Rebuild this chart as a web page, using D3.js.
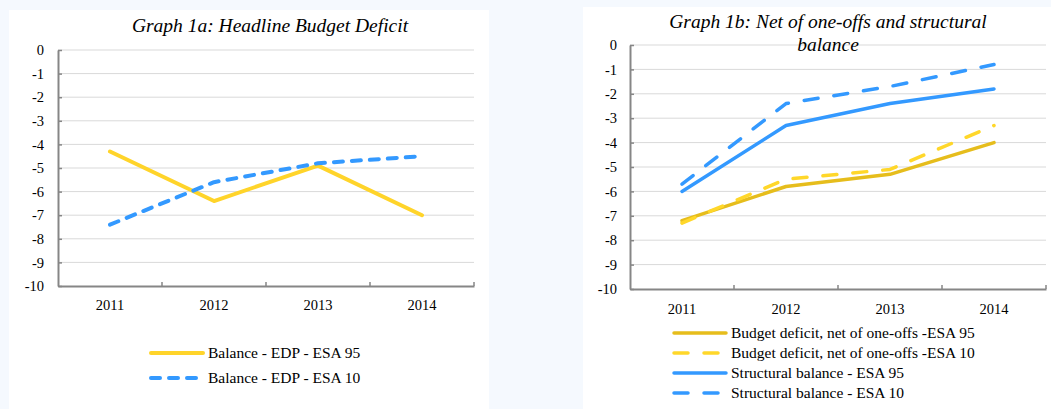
<!DOCTYPE html>
<html lang="en">
<head>
    <meta charset="UTF-8">
    <title>Graph 1a / 1b</title>
    <script src="https://d3js.org/d3.v7.min.js"></script>
    <style>
        body { margin: 0; background: #f5f9fe; }
        svg { display: block; }
        text { font-family: "Liberation Serif", "Times New Roman", serif; fill: #000; }
    </style>
</head>
<body>
    <script>
        // data
        var years = ["2011", "2012", "2013", "2014"];
        var yTicks = [0, -1, -2, -3, -4, -5, -6, -7, -8, -9, -10];

        var edpEsa95 = [-4.3, -6.4, -4.9, -7.0];
        var edpEsa10 = [-7.4, -5.6, -4.8, -4.5];

        var netEsa95 = [-7.2, -5.8, -5.3, -4.0];
        var netEsa10 = [-7.3, -5.5, -5.1, -3.3];
        var structEsa95 = [-6.0, -3.3, -2.4, -1.8];
        var structEsa10 = [-5.7, -2.4, -1.7, -0.8];

        var width = 1051, height = 409;
        var serif = "'Liberation Serif', 'Times New Roman', serif";

        var svg = d3.select("body").append("svg")
            .attr("width", width)
            .attr("height", height)
            .attr("font-family", serif);

        // white panels
        svg.append("rect").attr("x", 9).attr("y", 10).attr("width", 480).attr("height", 399).attr("fill", "#fff");
        svg.append("rect").attr("x", 583).attr("y", 7).attr("width", 468).attr("height", 402).attr("fill", "#fff");

        function drawPanel(p) {
            var g = svg.append("g");

            var x = d3.scaleBand().domain(years).range([p.x0, p.x1]).padding(0);
            var y = d3.scaleLinear().domain([-10, 0]).range([p.yBottom, p.yTop]);

            // gridlines
            g.append("g").selectAll("line")
                .data(yTicks.filter(function(d) { return d !== -10; }))
                .enter().append("line")
                .attr("x1", p.x0).attr("x2", p.x1)
                .attr("y1", function(d) { return y(d); })
                .attr("y2", function(d) { return y(d); })
                .attr("stroke", "#d9d9d9")
                .attr("stroke-width", 1);

            // y axis, small ticks pointing inward
            var yAxis = g.append("g")
                .attr("transform", "translate(" + p.x0 + ",0)")
                .attr("font-family", serif)
                .call(d3.axisLeft(y).tickValues(yTicks).tickSize(0).tickPadding(p.yPad)
                    .tickFormat(function(d) { return String(d); }));
            yAxis.select(".domain").attr("stroke", "#868686").attr("stroke-width", 2);
            yAxis.selectAll(".tick line").attr("x2", 4).attr("stroke", "#868686").attr("stroke-width", 1.5);
            yAxis.selectAll("text").style("font-size", "14.5px");

            // x axis (ticks between categories)
            var xAxis = g.append("g")
                .attr("transform", "translate(0," + p.yBottom + ")")
                .attr("font-family", serif)
                .call(d3.axisBottom(x).tickSize(0).tickPadding(p.xPad));
            xAxis.select(".domain").attr("stroke", "#868686").attr("stroke-width", 2);
            xAxis.selectAll("text").style("font-size", "14.5px");
            xAxis.selectAll(".sep")
                .data(years)
                .enter().append("line")
                .attr("x1", function(d) { return x(d) + x.bandwidth(); })
                .attr("x2", function(d) { return x(d) + x.bandwidth(); })
                .attr("y1", 0).attr("y2", -4)
                .attr("stroke", "#868686")
                .attr("stroke-width", 1.5);

            // title
            var title = g.append("text")
                .attr("x", p.titleX)
                .attr("text-anchor", "middle")
                .style("font-size", "19.5px")
                .style("font-style", "italic");
            p.title.forEach(function(t, i) {
                title.append("tspan").attr("x", p.titleX).attr("y", p.titleY + i * 23).text(t);
            });

            // series
            var line = d3.line()
                .x(function(d, i) { return x(years[i]) + x.bandwidth() / 2; })
                .y(function(d) { return y(d); });

            p.series.forEach(function(s) {
                g.append("path")
                    .datum(s.values)
                    .attr("d", line)
                    .attr("fill", "none")
                    .attr("stroke", s.color)
                    .attr("stroke-width", s.width)
                    .attr("stroke-linecap", "round")
                    .attr("stroke-linejoin", "round")
                    .attr("stroke-dasharray", s.dash);
            });

            // legend
            var leg = g.append("g");
            p.series.forEach(function(s, i) {
                var ly = p.legY + i * p.legStep;
                leg.append("line")
                    .attr("x1", p.legX).attr("x2", p.legX + 52)
                    .attr("y1", ly).attr("y2", ly)
                    .attr("stroke", s.color)
                    .attr("stroke-width", s.width)
                    .attr("stroke-linecap", "round")
                    .attr("stroke-dasharray", s.dash);
                leg.append("text")
                    .attr("x", p.legX + 57)
                    .attr("y", ly + 5)
                    .style("font-size", "15.5px")
                    .text(s.name);
            });
        }

        drawPanel({
            x0: 58, x1: 474, yTop: 50, yBottom: 286,
            yPad: 14, xPad: 14,
            titleX: 270, titleY: 32,
            title: ["Graph 1a: Headline Budget Deficit"],
            legX: 151, legY: 353, legStep: 25,
            series: [
                { name: "Balance - EDP - ESA 95", values: edpEsa95, color: "#ffd42a", width: 4, dash: null },
                { name: "Balance - EDP - ESA 10", values: edpEsa10, color: "#3399ff", width: 4, dash: "9,9" }
            ]
        });

        drawPanel({
            x0: 630, x1: 1046, yTop: 45, yBottom: 289,
            yPad: 13, xPad: 15,
            titleX: 828, titleY: 28,
            title: ["Graph 1b: Net of one-offs and structural", "balance"],
            legX: 674, legY: 333, legStep: 20,
            series: [
                { name: "Budget deficit, net of one-offs -ESA 95", values: netEsa95, color: "#e6bd1c", width: 3.5, dash: null },
                { name: "Budget deficit, net of one-offs -ESA 10", values: netEsa10, color: "#ffd72a", width: 3.5, dash: "14,16" },
                { name: "Structural balance - ESA 95", values: structEsa95, color: "#3399ff", width: 3.5, dash: null },
                { name: "Structural balance - ESA 10", values: structEsa10, color: "#3399ff", width: 3.5, dash: "14,16" }
            ]
        });
    </script>
</body>
</html>
